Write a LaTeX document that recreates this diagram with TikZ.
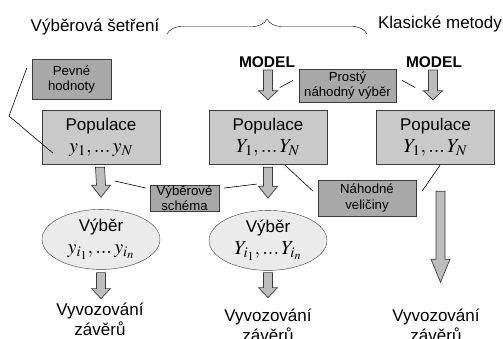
\documentclass[tikz,border=0pt]{standalone}
\usepackage{mathptmx}
\usepackage{fontspec}
\setmainfont{Liberation Sans}
\usetikzlibrary{positioning,calc,decorations.pathreplacing,shapes.geometric}
\definecolor{popfill}{HTML}{C9C9C9}
\definecolor{tagfill}{HTML}{A8A8A8}
\definecolor{vybfill}{HTML}{EBEBEB}
\definecolor{arrfill}{HTML}{BDBDBD}
\definecolor{edge}{HTML}{3C3C3C}
\newcommand{\mathsize}{\fontsize{20}{20}\selectfont}
\newcommand{\fatarrow}[3][9]{%
  \draw[fat arrow] ($(#2)+(-4.5,0)$) -- ($(#3)+(-4.5,-#1)$) -- ($(#3)+(-9.5,-#1)$) -- (#3)
    -- ($(#3)+(9.5,-#1)$) -- ($(#3)+(4.5,-#1)$) -- ($(#2)+(4.5,0)$) -- cycle;}
\begin{document}
\begin{tikzpicture}[x=1pt,y=-1pt,
  big/.style={font=\fontsize{17}{20}\selectfont,inner sep=0pt},
  model/.style={font=\fontsize{15.5}{18}\selectfont\bfseries,inner sep=0pt,anchor=base},
  popbox/.style={rectangle,draw=edge,fill=popfill,minimum width=118pt,minimum height=54pt,inner sep=0pt,align=center,font=\fontsize{17}{22}\selectfont},
  tagbox/.style={rectangle,draw=edge,fill=tagfill,inner sep=0pt,align=center,font=\fontsize{13.2}{15.5}\selectfont},
  vybnode/.style={ellipse,draw=edge,fill=vybfill,minimum width=118pt,minimum height=60pt,inner sep=0pt,align=center,font=\fontsize{17}{22}\selectfont},
  fat arrow/.style={draw=edge,fill=arrfill,line width=0.7pt,line join=miter},
  link/.style={draw=black,line width=0.6pt}]
\useasboundingbox (0,0) rectangle (503,338);

\node[big,anchor=base] (sur) at (95,31) {Výběrová šetření};
\node[big,anchor=base] (kla) at (440,28) {Klasické metody};
\draw[decorate,decoration={brace,amplitude=15pt}] (167,34) -- (367,34);
\node[model] (mod2) at (267,67) {MODEL};
\node[model] (mod3) at (434,67) {MODEL};

\node[popbox] (pop1) at (101,137) {Populace\\ {\mathsize$y_1, ...\, y_N$}};
\node[popbox] (pop2) at (268,137) {Populace\\ {\mathsize$Y_1, ...\, Y_N$}};
\node[popbox] (pop3) at (435.5,137) {Populace\\ {\mathsize$Y_1, ...\, Y_N$}};

\node[tagbox,minimum width=79pt,minimum height=40pt] (pev) at (71.5,79.5) {Pevné\\hodnoty};
\node[tagbox,minimum width=97pt,minimum height=33pt] (pnv) at (347.5,85.5) {Prostý\\náhodný výběr};
\node[tagbox,minimum width=69pt,minimum height=26pt] (sch) at (184.5,198) {Výběrové\\schéma};
\node[tagbox,minimum width=98pt,minimum height=36pt] (nvl) at (367,198) {Náhodné\\veličiny};

\node[vybnode,below=45pt of pop1] (vyb1) {Výběr\\ {\mathsize$y_{i_1}, ...\, y_{i_n}$}};
\node[vybnode,below=46pt of pop2] (vyb2) {Výběr\\ {\mathsize$Y_{i_1}, ...\, Y_{i_n}$}};

\node[big,align=center,anchor=base] (zav1) at (100,335) {Vyvozování\\závěrů};
\node[big,align=center,anchor=base] (zav2) at (268,341) {Vyvozování\\závěrů};
\node[big,align=center,anchor=base] (zav3) at (436,341) {Vyvozování\\závěrů};

\coordinate (m2s) at ($(mod2.base)+(1,3)$);
\coordinate (m2e) at ($(pop2.north)+(0,-10)$);
\coordinate (m3s) at ($(mod3.base)+(-1,3)$);
\coordinate (m3e) at ($(pop3.north)+(-2.5,-10)$);
\coordinate (p1s) at ($(pop1.south)+(-1,3)$);
\coordinate (p1e) at ($(vyb1.north)+(0,-12)$);
\coordinate (p2s) at ($(pop2.south)+(0,3)$);
\coordinate (p2e) at ($(vyb2.north)+(0,-12)$);
\coordinate (p3s) at ($(pop3.south)+(5,27)$);
\coordinate (p3e) at ($(pop3.south)+(5,118)$);
\coordinate (v1s) at ($(vyb1.south)+(0,3)$);
\coordinate (v1e) at ($(vyb1.south)+(0,29)$);
\coordinate (v2s) at ($(vyb2.south)+(0,2)$);
\coordinate (v2e) at ($(vyb2.south)+(0,27)$);
\fatarrow{m2s}{m2e}
\fatarrow{m3s}{m3e}
\fatarrow[12]{p1s}{p1e}
\fatarrow[12]{p2s}{p2e}
\fatarrow[23]{p3s}{p3e}
\fatarrow[10]{v1s}{v1e}
\fatarrow[10]{v2s}{v2e}

\coordinate (pevL) at ($(pev.west)+(-5,-11.5)$);
\coordinate (kink) at (9,116);
\coordinate (popL) at ($(pop1.west)+(11,16)$);
\draw[link] (pevL) -- (kink) -- (popL);
\draw[link] ($(pnv.west)+(-6,-5)$) -- ($(pnv.west)+(-19,2)$);
\draw[link] ($(pnv.east)+(6,-5)$) -- ($(pnv.east)+(19,2)$);
\draw[link] ($(sch.west)+(-4,-10)$) -- ($(sch.west)+(-35,-17)$);
\draw[link] ($(sch.east)+(5,-10)$) -- ($(sch.east)+(38,-14)$);
\draw[link] ($(nvl.west)+(-5,-7)$) -- ($(pop2.south)+(17,1)$);
\draw[link] ($(nvl.east)+(6,-7)$) -- ($(pop3.south)+(4.5,1)$);
\end{tikzpicture}
\end{document}
